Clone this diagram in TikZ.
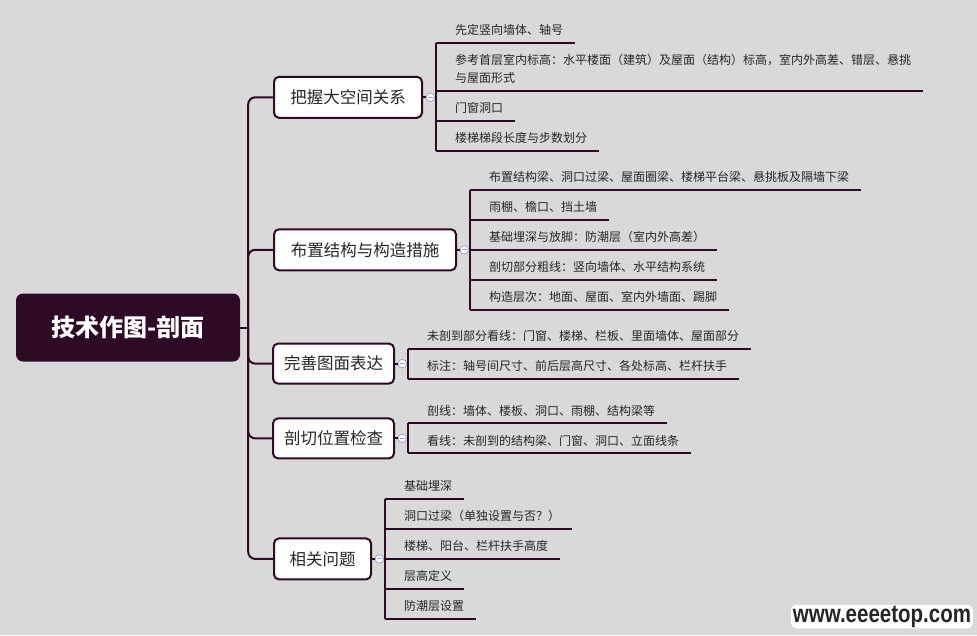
\documentclass[tikz,border=0pt]{standalone}
\usepackage{fontspec}
\usepackage{graphicx}
\setmainfont{Noto Sans CJK SC}
\newfontfamily\wmfont{Liberation Sans}
\usetikzlibrary{positioning}
\definecolor{mapbg}{HTML}{D9D9D9}
\definecolor{mapdark}{HTML}{2E0B25}
\definecolor{maptext}{HTML}{262626}
\definecolor{mapmark}{HTML}{9AA3CC}

\begin{document}
\begin{tikzpicture}[
    x=1pt, y=-1pt,
    link/.style={draw=mapdark, line width=2pt},
    root/.style={fill=mapdark, rounded corners=7pt, minimum width=224pt,
      minimum height=68pt, text=white, font=\fontsize{24}{28}\selectfont\bfseries},
    topic/.style={draw=mapdark, line width=2pt, fill=white, rounded corners=5pt,
      anchor=west, minimum height=41pt, inner xsep=4pt, text=maptext,
      font=\fontsize{16.5}{20}\selectfont},
    fold/.style={circle, draw=mapmark, fill=white, line width=0.8pt, minimum size=8.6pt,
      inner sep=0pt, path picture={\draw[mapmark, line width=0.9pt]
        ([xshift=-2.3pt]path picture bounding box.center) --
        ([xshift=2.3pt]path picture bounding box.center);}},
    leaf/.style={anchor=south west, xshift=7pt, inner xsep=12pt, inner ysep=0pt,
      text depth=7.8pt, align=left, text=maptext, font=\fontsize{12}{18.3}\selectfont},
    wmark/.style={font=\wmfont\fontsize{25}{26}\selectfont\bfseries, text=maptext,
      fill=white, rounded corners=6pt, inner xsep=2pt, inner ysep=1pt}
  ]
    \fill[mapbg] (0,0) rectangle (977,635);
    \useasboundingbox (0,0) rectangle (977,635);

    \node[root] (root) at (128,327.5) {技术作图-剖面};
    \coordinate (j) at ([xshift=8pt]root.east);

    \node[topic, minimum width=148pt] (b1) at (273,97.3) {把握大空间关系};
    \node[topic, minimum width=182pt] (b2) at (273,249.8) {布置结构与构造措施};
    \node[topic, minimum width=121pt, minimum height=40pt] (b3) at (272,363.6) {完善图面表达};
    \node[topic, minimum width=121pt, minimum height=40pt] (b4) at (272,438.4) {剖切位置检查};
    \node[topic, minimum width=97pt] (b5) at (273,558.9) {相关问题};

    \draw[link] (root.east) -- (j);
    \foreach \b in {b1,b2,b3,b4,b5}
      \draw[link, rounded corners=7pt] (j) |- (\b.west);

    \node[fold, right=2.6pt of b1] (m1) {};
    \node[fold, right=2.6pt of b2] (m2) {};
    \node[fold, right=2.6pt of b3] (m3) {};
    \node[fold, right=2.6pt of b4] (m4) {};
    \node[fold, right=2.6pt of b5] (m5) {};
    \foreach \i in {1,...,5} {
      \coordinate[right=1pt of m\i] (k\i);
      \draw[link] (b\i.east) -- (m\i.west);
      \draw[link] (m\i.east) -- (k\i);
    }

    \node[leaf] (l11) at ([yshift=54.6pt]k1) {先定竖向墙体、轴号};
    \node[leaf] (l12) at ([yshift=6.6pt]k1) {参考首层室内标高：水平楼面（建筑）及屋面（结构）标高，室内外高差、错层、悬挑\\与屋面形式};
    \node[leaf] (l13) at ([yshift=-23.4pt]k1) {门窗洞口};
    \node[leaf] (l14) at ([yshift=-53.4pt]k1) {楼梯梯段长度与步数划分};

    \node[leaf] (l21) at ([yshift=60pt]k2) {布置结构梁、洞口过梁、屋面圈梁、楼梯平台梁、悬挑板及隔墙下梁};
    \node[leaf] (l22) at ([yshift=30pt]k2) {雨棚、檐口、挡土墙};
    \node[leaf] (l23) at (k2) {基础埋深与放脚：防潮层（室内外高差）};
    \node[leaf] (l24) at ([yshift=-30pt]k2) {剖切部分粗线：竖向墙体、水平结构系统};
    \node[leaf] (l25) at ([yshift=-60pt]k2) {构造层次：地面、屋面、室内外墙面、踢脚};

    \node[leaf] (l31) at ([yshift=15pt]k3) {未剖到部分看线：门窗、楼梯、栏板、里面墙体、屋面部分};
    \node[leaf] (l32) at ([yshift=-15pt]k3) {标注：轴号间尺寸、前后层高尺寸、各处标高、栏杆扶手};

    \node[leaf] (l41) at ([yshift=15pt]k4) {剖线：墙体、楼板、洞口、雨棚、结构梁等};
    \node[leaf] (l42) at ([yshift=-15pt]k4) {看线：未剖到的结构梁、门窗、洞口、立面线条};

    \node[leaf] (l51) at ([yshift=60pt]k5) {基础埋深};
    \node[leaf] (l52) at ([yshift=30pt]k5) {洞口过梁（单独设置与否？）};
    \node[leaf] (l53) at (k5) {楼梯、阳台、栏杆扶手高度};
    \node[leaf] (l54) at ([yshift=-30pt]k5) {层高定义};
    \node[leaf] (l55) at ([yshift=-60pt]k5) {防潮层设置};

    \foreach \l in {l11,l12,l13,l14} \draw[link] (k1 |- \l.south) -- (\l.south east);
    \foreach \l in {l21,l22,l23,l24,l25} \draw[link] (k2 |- \l.south) -- (\l.south east);
    \foreach \l in {l31,l32} \draw[link] (k3 |- \l.south) -- (\l.south east);
    \foreach \l in {l41,l42} \draw[link] (k4 |- \l.south) -- (\l.south east);
    \foreach \l in {l51,l52,l53,l54,l55} \draw[link] (k5 |- \l.south) -- (\l.south east);
    \draw[link] (k1 |- l11.south) -- (k1 |- l14.south);
    \draw[link] (k2 |- l21.south) -- (k2 |- l25.south);
    \draw[link] (k3 |- l31.south) -- (k3 |- l32.south);
    \draw[link] (k4 |- l41.south) -- (k4 |- l42.south);
    \draw[link] (k5 |- l51.south) -- (k5 |- l55.south);

    \node[wmark] (wmark) at (882,616.5) {\scalebox{0.82}[1]{www.eeeetop.com}};
  \end{tikzpicture}
\end{document}
